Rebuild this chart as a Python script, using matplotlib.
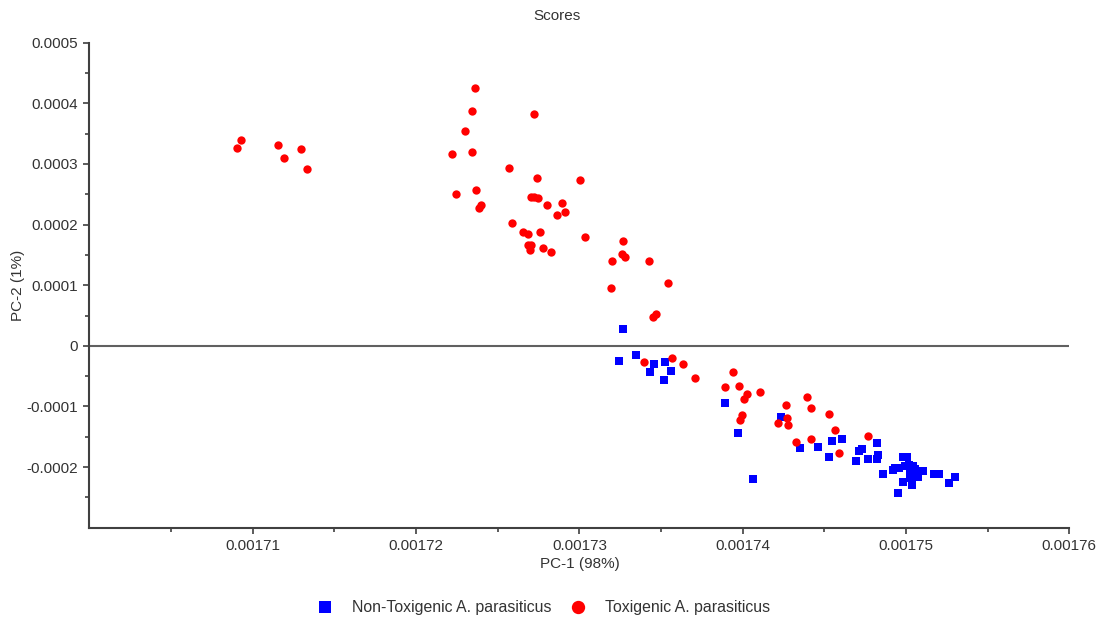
import numpy as np
import matplotlib.pyplot as plt
from matplotlib.ticker import FixedLocator

# PCA scores (PC-1, PC-2)
tox_pc1 = [0.00170901, 0.00170928, 0.00171156, 0.00171193, 0.00171293, 0.00171334,
           0.00172359, 0.00172342, 0.00172300, 0.00172222, 0.00172342, 0.00172724,
           0.00172571, 0.00172742, 0.00173006, 0.00172246, 0.00172367, 0.00172396,
           0.00172385, 0.00172702, 0.00172724, 0.00172745, 0.00172803, 0.00172895,
           0.00172914, 0.00172861, 0.00172589, 0.00172656, 0.00172683, 0.00172759,
           0.00173032, 0.00172683, 0.00172702, 0.00172699, 0.00172775, 0.00172826,
           0.00173269, 0.00173259, 0.00173281, 0.00173202, 0.00173424, 0.00173194,
           0.00173543, 0.00173449, 0.00173467, 0.00173397, 0.00173567, 0.00173636,
           0.00173706, 0.00173892, 0.00173942, 0.00173977, 0.00174028, 0.00174010,
           0.00174106, 0.00173996, 0.00173985, 0.00174267, 0.00174396, 0.00174420,
           0.00174530, 0.00174269, 0.00174216, 0.00174276, 0.00174565, 0.00174326,
           0.00174420, 0.00174592, 0.00174770]
tox_pc2 = [0.000326, 0.000340, 0.000331, 0.000310, 0.000324, 0.000292,
           0.000425, 0.000388, 0.000354, 0.000317, 0.000320, 0.000382,
           0.000294, 0.000276, 0.000274, 0.000251, 0.000257, 0.000233,
           0.000228, 0.000246, 0.000246, 0.000244, 0.000233, 0.000236,
           0.000221, 0.000215, 0.000202, 0.000187, 0.000184, 0.000187,
           0.000179, 0.000167, 0.000167, 0.000158, 0.000161, 0.000155,
           0.000173, 0.000152, 0.000147, 0.000140, 0.000140, 0.0000946,
           0.000104, 0.0000483, 0.0000528, -0.0000269, -0.0000198, -0.0000292,
           -0.0000523, -0.0000682, -0.0000429, -0.0000655, -0.0000797, -0.0000870,
           -0.0000754, -0.000114, -0.000122, -0.0000979, -0.0000842, -0.000103,
           -0.000112, -0.000119, -0.000128, -0.000130, -0.000139, -0.000158,
           -0.000153, -0.000176, -0.000149]

nontox_pc1 = [0.00173269, 0.00173244, 0.00173347, 0.00173457, 0.00173432, 0.00173526,
              0.00173559, 0.00173518, 0.00173890, 0.00173969, 0.00174061, 0.00174233,
              0.00174353, 0.00174463, 0.00174549, 0.00174608, 0.00174530, 0.00174692,
              0.00174712, 0.00174729, 0.00174769, 0.00174821, 0.00174827, 0.00174821,
              0.00174861, 0.00174919, 0.00174933, 0.00174959, 0.00174984, 0.00175008,
              0.00174994, 0.00175020, 0.00175045, 0.00175055, 0.00175025, 0.00175081,
              0.00175102, 0.00175025, 0.00175075, 0.00174984, 0.00175035, 0.00174953,
              0.00175172, 0.00175204, 0.00175263, 0.00175300]
nontox_pc2 = [0.0000281, -0.0000248, -0.0000153, -0.0000292, -0.0000429, -0.0000269,
              -0.0000408, -0.0000566, -0.0000936, -0.000144, -0.000219, -0.000117,
              -0.000169, -0.000167, -0.000157, -0.000153, -0.000183, -0.000190,
              -0.000173, -0.000171, -0.000187, -0.000160, -0.000180, -0.000186,
              -0.000211, -0.000205, -0.000202, -0.000202, -0.000183, -0.000183,
              -0.000199, -0.000196, -0.000198, -0.000203, -0.000206, -0.000206,
              -0.000206, -0.000218, -0.000217, -0.000224, -0.000229, -0.000243,
              -0.000211, -0.000211, -0.000227, -0.000217]

x_labels = ['0.00171', '0.00172', '0.00173', '0.00174', '0.00175', '0.00176']
y_labels = ['-0.0002', '-0.0001', '0', '0.0001', '0.0002', '0.0003', '0.0004', '0.0005']

plt.rcParams['font.family'] = ['Liberation Sans', 'DejaVu Sans']
txt = '#333333'
axis_col = '#404040'

fig = plt.figure(figsize=(11.02, 6.22), dpi=100)
ax = fig.add_axes([0.0812, 0.1516, 0.8891, 0.7798])

ax.axhline(0, color='#606060', lw=1.5, zorder=1)
ax.plot(nontox_pc1, nontox_pc2, 's', color='#0000ff', ms=5.6, mew=0,
        label='Non-Toxigenic A. parasiticus', zorder=3)
ax.plot(tox_pc1, tox_pc2, 'o', color='#ff0000', ms=6, mew=0,
        label='Toxigenic A. parasiticus', zorder=3)

ax.set_xlim(0.00170, 0.00176)
ax.set_ylim(-0.0003, 0.0005)

ax.xaxis.set_major_locator(FixedLocator([float(v) for v in x_labels]))
ax.set_xticklabels(x_labels)
ax.xaxis.set_minor_locator(FixedLocator(list(np.arange(0.001705, 0.00176, 0.00001))))
ax.yaxis.set_major_locator(FixedLocator([float(v) for v in y_labels]))
ax.set_yticklabels(y_labels)
ax.yaxis.set_minor_locator(FixedLocator(list(np.arange(-0.00025, 0.0005, 0.0001))))

for side in ['top', 'right']:
    ax.spines[side].set_visible(False)
for side in ['left', 'bottom']:
    ax.spines[side].set_color(axis_col)
    ax.spines[side].set_linewidth(1.5)

ax.tick_params(which='major', length=4, width=1.2, color=axis_col,
               labelsize=11, labelcolor=txt, pad=4)
ax.tick_params(which='minor', length=3, width=1.2, color=axis_col)

ax.set_xlabel('PC-1 (98%)', fontsize=11, color=txt, labelpad=3)
ax.set_ylabel('PC-2 (1%)', fontsize=11, color=txt, labelpad=1)
fig.text(0.505, 0.975, 'Scores', ha='center', va='center', fontsize=11, color=txt)

fig.legend(loc='center', bbox_to_anchor=(0.4925, 0.023), ncol=2, frameon=False,
           fontsize=11.4, labelcolor=txt, markerscale=1.6, handletextpad=1.1,
           columnspacing=1.05, handlelength=1.2)

fig.savefig('out.png', dpi=100)
